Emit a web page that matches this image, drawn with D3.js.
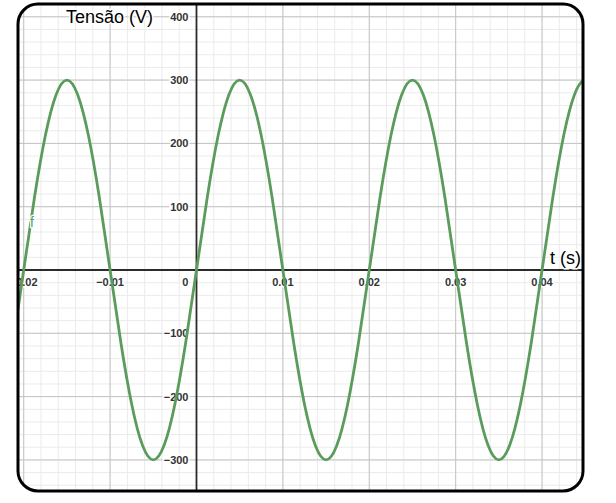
<!DOCTYPE html>
<html lang="pt">
<head>
<meta charset="UTF-8">
<title>Tensão (V) x t (s)</title>
<script src="https://cdn.jsdelivr.net/npm/d3@7"></script>
<style>
body { margin: 0; background: #fff; }
svg { display: block; font-family: "Liberation Sans", Arial, sans-serif; }
.tick-label { font-size: 11px; font-weight: bold; fill: #333; stroke: #fff; stroke-width: 3px; paint-order: stroke; }
</style>
</head>
<body>
<svg id="chart" width="616" height="503"></svg>
<script>
// tick values
const X_TICKS = [-0.02, -0.01, 0, 0.01, 0.02, 0.03, 0.04];
const X_TICK_LABELS = ["\u22120.02", "\u22120.01", "0", "0.01", "0.02", "0.03", "0.04"];
const Y_TICKS = [-300, -200, -100, 100, 200, 300, 400];
const Y_TICK_LABELS = ["\u2212300", "\u2212200", "\u2212100", "100", "200", "300", "400"];

// samples of the curve, every 0.00125 s starting at t = -0.0225 s
const T_START = -0.0225;
const T_STEP = 0.00125;
const VOLTS = [
    -212, -115, 0, 115, 212, 277, 300, 277, 212, 115,
    0, -115, -212, -277, -300, -277, -212, -115,
    0, 115, 212, 277, 300, 277, 212, 115,
    0, -115, -212, -277, -300, -277, -212, -115,
    0, 115, 212, 277, 300, 277, 212, 115,
    0, -115, -212, -277, -300, -277, -212, -115,
    0, 115, 212, 277, 300, 277, 212
];

// frame
const FX = 18, FY = 4, FW = 565, FH = 487, FR = 20;

const svg = d3.select("#chart");
const x = d3.scaleLinear().domain([-0.02066, 0.04474]).range([FX, FX + FW]);
const y = d3.scaleLinear().domain([-349.1, 420.2]).range([FY + FH, FY]);

svg.append("defs").append("clipPath").attr("id", "clip")
    .append("rect")
    .attr("x", FX).attr("y", FY).attr("width", FW).attr("height", FH).attr("rx", FR);

const g = svg.append("g").attr("clip-path", "url(#clip)");

g.append("rect")
    .attr("x", FX).attr("y", FY).attr("width", FW).attr("height", FH)
    .attr("fill", "#fff");

// minor grid
const minorX = d3.range(-0.022, 0.046, 0.002);
const minorY = d3.range(-340, 440, 20);
g.selectAll(".minor-x").data(minorX).join("line")
    .attr("x1", d => x(d)).attr("x2", d => x(d))
    .attr("y1", FY).attr("y2", FY + FH)
    .attr("stroke", "#ebebeb").attr("stroke-width", 1);
g.selectAll(".minor-y").data(minorY).join("line")
    .attr("y1", d => y(d)).attr("y2", d => y(d))
    .attr("x1", FX).attr("x2", FX + FW)
    .attr("stroke", "#ebebeb").attr("stroke-width", 1);

// major grid
const majorX = X_TICKS.filter(d => d !== 0);
g.selectAll(".major-x").data(majorX).join("line")
    .attr("x1", d => x(d)).attr("x2", d => x(d))
    .attr("y1", FY).attr("y2", FY + FH)
    .attr("stroke", "#c4c4c4").attr("stroke-width", 1);
g.selectAll(".major-y").data(Y_TICKS).join("line")
    .attr("y1", d => y(d)).attr("y2", d => y(d))
    .attr("x1", FX).attr("x2", FX + FW)
    .attr("stroke", "#c4c4c4").attr("stroke-width", 1);

// axes
g.append("line")
    .attr("x1", FX).attr("x2", FX + FW).attr("y1", y(0)).attr("y2", y(0))
    .attr("stroke", "#2b2b2b").attr("stroke-width", 1.8);
g.append("line")
    .attr("x1", x(0)).attr("x2", x(0)).attr("y1", FY).attr("y2", FY + FH)
    .attr("stroke", "#2b2b2b").attr("stroke-width", 1.8);

// tick labels
g.selectAll(".xl").data(X_TICKS).join("text")
    .attr("class", "tick-label")
    .attr("x", d => d === 0 ? x(0) - 8 : x(d))
    .attr("y", y(0) + 16)
    .attr("text-anchor", d => d === 0 ? "end" : "middle")
    .text((d, i) => X_TICK_LABELS[i]);
g.selectAll(".yl").data(Y_TICKS).join("text")
    .attr("class", "tick-label")
    .attr("x", x(0) - 8)
    .attr("y", d => y(d) + 4)
    .attr("text-anchor", "end")
    .text((d, i) => Y_TICK_LABELS[i]);

// axis titles
g.append("text")
    .attr("x", 66).attr("y", 23)
    .attr("font-size", 18).attr("fill", "#000")
    .attr("stroke", "#fff").attr("stroke-width", 3).attr("paint-order", "stroke")
    .text("Tensão (V)");
g.append("text")
    .attr("x", 550).attr("y", 264)
    .attr("font-size", 18).attr("fill", "#000")
    .attr("stroke", "#fff").attr("stroke-width", 3).attr("paint-order", "stroke")
    .text("t (s)");

// curve
const pts = VOLTS.map((v, i) => [T_START + i * T_STEP, v]);
const line = d3.line()
    .x(d => x(d[0]))
    .y(d => y(d[1]))
    .curve(d3.curveNatural);
g.append("path")
    .datum(pts)
    .attr("d", line)
    .attr("fill", "none")
    .attr("stroke", "#5b9b5b")
    .attr("stroke-width", 2.8);

// function label
g.append("text")
    .attr("x", 30).attr("y", 227)
    .attr("font-size", 14).attr("fill", "#5b9b5b")
    .attr("stroke", "#fff").attr("stroke-width", 2.5).attr("paint-order", "stroke")
    .text("f");

// frame border
svg.append("rect")
    .attr("x", FX).attr("y", FY).attr("width", FW).attr("height", FH).attr("rx", FR)
    .attr("fill", "none").attr("stroke", "#000").attr("stroke-width", 3);
</script>
</body>
</html>
